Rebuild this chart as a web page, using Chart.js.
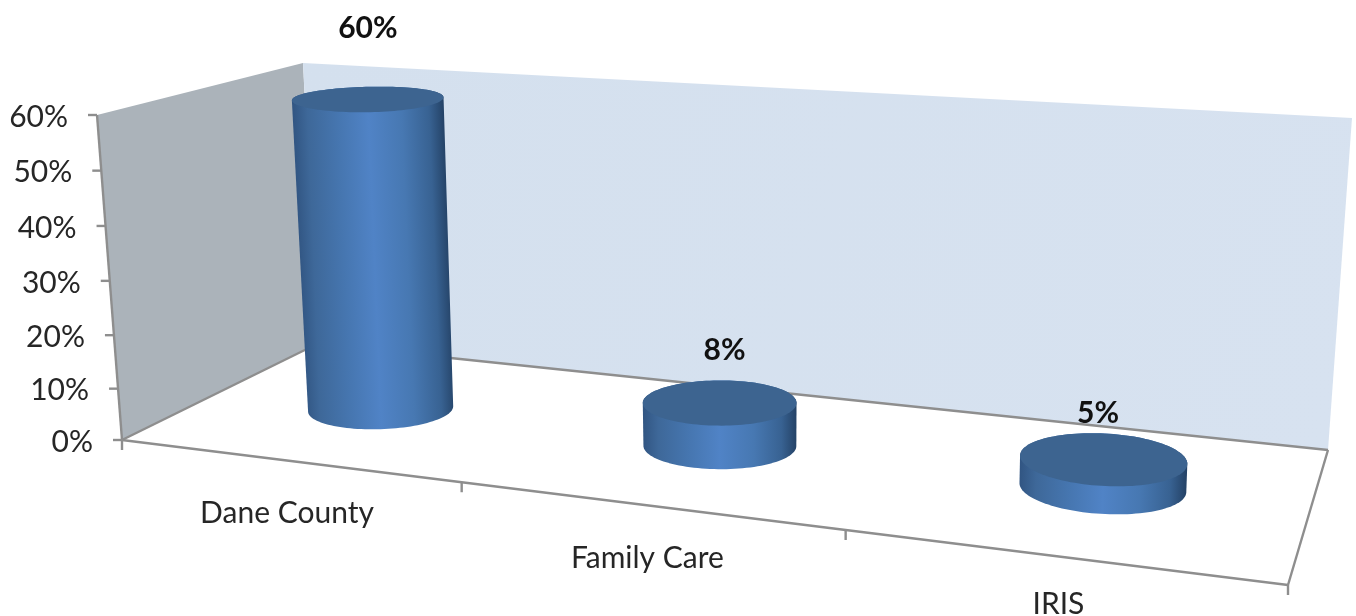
<!DOCTYPE html>
<html>
<head>
<meta charset="utf-8">
<style>
  html, body { margin: 0; padding: 0; background: #fff; }
  #wrap { width: 1356px; height: 616px; }
</style>
<script src="https://cdn.jsdelivr.net/npm/chart.js@4"></script>
</head>
<body>
<div id="wrap"><canvas id="myChart"></canvas></div>
<script>
const categories = ['Dane County', 'Family Care', 'IRIS'];
const percentValues = [60, 8, 5];
const yTickStep = 10;
const yMax = 60;

// floor and wall corners of the 3D box, in page pixels
const FL = [122, 440], FR = [1288, 585], BR = [1328, 450], BL = [303, 352];
const backTopL = [303, 63], backTopR = [1352, 118];
// the walls meet a little further right than the floor mapping assumes, hidden behind the first cylinder
const wallCorner = [317, 344];
// how a full 0-60 height looks at each floor corner
const upFL = [-25, -325], upFR = [5, -345], upBR = [24, -332], upBL = [-13, -285];

const FONT = 'Lato, sans-serif';
const LINE = '#8e8e8e';
const TEXT = '#262626';
const CYL_V = 0.53;
const CYL_NUDGE = 0.0025;

// unit square (u along the categories, v into the depth) -> floor quad
// part perspective, part straight, the spacing of the x ticks needs both
function makeFloor() {
  const dx1 = FR[0] - BR[0], dx2 = BL[0] - BR[0], sx = FL[0] - FR[0] + BR[0] - BL[0];
  const dy1 = FR[1] - BR[1], dy2 = BL[1] - BR[1], sy = FL[1] - FR[1] + BR[1] - BL[1];
  const det = dx1 * dy2 - dx2 * dy1;
  const g = (sx * dy2 - dx2 * sy) / det;
  const h = (dx1 * sy - sx * dy1) / det;
  const a = FR[0] - FL[0] + g * FR[0], b = BL[0] - FL[0] + h * BL[0];
  const d = FR[1] - FL[1] + g * FR[1], e = BL[1] - FL[1] + h * BL[1];
  const blend = 0.28;
  return (u, v) => {
    const w = g * u + h * v + 1;
    const px = (a * u + b * v + FL[0]) / w, py = (d * u + e * v + FL[1]) / w;
    const lx = (1 - v) * ((1 - u) * FL[0] + u * FR[0]) + v * ((1 - u) * BL[0] + u * BR[0]);
    const ly = (1 - v) * ((1 - u) * FL[1] + u * FR[1]) + v * ((1 - u) * BL[1] + u * BR[1]);
    return [px + (lx - px) * blend, py + (ly - py) * blend];
  };
}
const floorAt = makeFloor();

function upAt(u, v) {
  const mix = (i) => (1 - v) * ((1 - u) * upFL[i] + u * upFR[i]) + v * ((1 - u) * upBL[i] + u * upBR[i]);
  return [mix(0), mix(1)];
}

// p is 0..1 of the axis height
function pointAt(u, v, p) {
  const f = floorAt(u, v), up = upAt(u, v);
  return [f[0] + up[0] * p, f[1] + up[1] * p];
}

// a y tick's place on the slanted axis, slightly foreshortened towards the floor
function axisPoint(scale, area, value) {
  const p = (area.bottom - scale.getPixelForValue(value)) / area.height;
  return pointAt(0, 0, Math.pow(p, 1.03));
}

function polygon(ctx, pts) {
  ctx.beginPath();
  pts.forEach((p, i) => (i ? ctx.lineTo(p[0], p[1]) : ctx.moveTo(p[0], p[1])));
  ctx.closePath();
}

function line(ctx, a, b) {
  ctx.beginPath();
  ctx.moveTo(a[0], a[1]);
  ctx.lineTo(b[0], b[1]);
  ctx.stroke();
}

function convexHull(points) {
  const pts = points.slice().sort((a, b) => a[0] - b[0] || a[1] - b[1]);
  const cross = (o, a, b) => (a[0] - o[0]) * (b[1] - o[1]) - (a[1] - o[1]) * (b[0] - o[0]);
  const half = (list) => {
    const out = [];
    list.forEach(p => {
      while (out.length > 1 && cross(out[out.length - 2], out[out.length - 1], p) <= 0) out.pop();
      out.push(p);
    });
    out.pop();
    return out;
  };
  return half(pts).concat(half(pts.slice().reverse()));
}

const sideStops = [
  [0, '#315582'], [0.1, '#3e6899'], [0.3, '#4676b0'], [0.5, '#5083c6'],
  [0.72, '#4778b2'], [0.9, '#386292'], [1, '#244266']
];

function drawCylinder(ctx, u, p) {
  const ru = 0.067, rv = 0.205, n = 120;
  const bottom = [], top = [];
  for (let i = 0; i < n; i++) {
    const a = i / n * Math.PI * 2;
    const uu = u + ru * Math.cos(a), vv = CYL_V + rv * Math.sin(a);
    bottom.push(pointAt(uu, vv, 0));
    top.push(pointAt(uu, vv, p));
  }
  const hull = convexHull(bottom.concat(top));

  // colour bands run along the lean of the cylinder
  const c0 = pointAt(u, CYL_V, 0), c1 = pointAt(u, CYL_V, p);
  const len = Math.hypot(c1[0] - c0[0], c1[1] - c0[1]);
  const nx = -(c1[1] - c0[1]) / len, ny = (c1[0] - c0[0]) / len;
  const proj = hull.map(q => (q[0] - c0[0]) * nx + (q[1] - c0[1]) * ny);
  const lo = Math.min(...proj), hi = Math.max(...proj);
  const g = ctx.createLinearGradient(c0[0] + nx * lo, c0[1] + ny * lo, c0[0] + nx * hi, c0[1] + ny * hi);
  sideStops.forEach(s => g.addColorStop(s[0], s[1]));
  ctx.fillStyle = g;
  polygon(ctx, hull);
  ctx.fill();

  ctx.fillStyle = '#3d6490';
  polygon(ctx, top);
  ctx.fill();
}

const box3d = {
  id: 'box3d',
  beforeDatasetsDraw(chart) {
    const ctx = chart.ctx;
    const yScale = chart.scales.y;
    const area = chart.chartArea;
    ctx.save();

    // left wall
    ctx.fillStyle = '#abb3ba';
    polygon(ctx, [FL, pointAt(0, 0, 1), backTopL, wallCorner]);
    ctx.fill();

    // back wall
    const g = ctx.createLinearGradient(303, 63, 1328, 450);
    g.addColorStop(0, '#d4e0ee');
    g.addColorStop(1, '#d7e2f0');
    ctx.fillStyle = g;
    polygon(ctx, [wallCorner, backTopL, backTopR, BR]);
    ctx.fill();

    ctx.strokeStyle = LINE;
    ctx.lineWidth = 2.4;
    line(ctx, FL, wallCorner);
    line(ctx, wallCorner, BR);
    line(ctx, BR, FR);
    line(ctx, FL, FR);
    line(ctx, FL, pointAt(0, 0, 1));

    // y ticks follow the slanted axis
    yScale.ticks.forEach(t => {
      const q = axisPoint(yScale, area, t.value);
      line(ctx, q, [q[0] - 9, q[1]]);
    });

    // x ticks sit between the categories on the front edge
    for (let i = 0; i <= categories.length; i++) {
      const q = floorAt(i / categories.length, 0);
      line(ctx, q, [q[0], q[1] + 10]);
    }
    ctx.restore();
  },
  afterDatasetsDraw(chart) {
    const ctx = chart.ctx;
    const area = chart.chartArea;
    ctx.save();
    chart.getDatasetMeta(0).data.forEach(el => {
      const u = (el.x - area.left) / area.width + CYL_NUDGE;
      const p = (el.base - el.y) / area.height;
      drawCylinder(ctx, u, p);
    });
    ctx.restore();
  },
  afterDraw(chart) {
    const ctx = chart.ctx;
    const yScale = chart.scales.y;
    const area = chart.chartArea;
    ctx.save();

    ctx.fillStyle = TEXT;
    ctx.font = '30px ' + FONT;
    ctx.textAlign = 'right';
    ctx.textBaseline = 'middle';
    yScale.ticks.forEach(t => {
      const q = axisPoint(yScale, area, t.value);
      ctx.fillText(t.value + '%', q[0] - 29, q[1] + 2);
    });

    ctx.textAlign = 'center';
    categories.forEach((name, i) => {
      const q = floorAt((i + 0.5) / categories.length, 0);
      ctx.fillText(name, q[0], q[1] + (i === 2 ? 48 : 53));
    });

    ctx.fillStyle = '#111';
    ctx.font = 'bold 30px ' + FONT;
    const lift = [[0, -70], [5, -52], [-5, -46]];
    chart.getDatasetMeta(0).data.forEach((el, i) => {
      const u = (el.x - area.left) / area.width + CYL_NUDGE;
      const p = (el.base - el.y) / area.height;
      const q = pointAt(u, CYL_V, p);
      ctx.fillText(percentValues[i] + '%', q[0] + lift[i][0], q[1] + lift[i][1]);
    });
    ctx.restore();
  }
};

new Chart(document.getElementById('myChart'), {
  type: 'bar',
  data: {
    labels: categories,
    datasets: [{
      data: percentValues,
      backgroundColor: 'rgba(0,0,0,0)'
    }]
  },
  options: {
    responsive: true,
    maintainAspectRatio: false,
    animation: false,
    layout: { padding: { left: FL[0], right: 1356 - FR[0], top: 115, bottom: 616 - FL[1] } },
    plugins: { legend: { display: false }, tooltip: { enabled: false } },
    scales: {
      x: { display: false },
      y: { display: false, min: 0, max: yMax, ticks: { stepSize: yTickStep } }
    }
  },
  plugins: [box3d]
});
</script>
</body>
</html>
